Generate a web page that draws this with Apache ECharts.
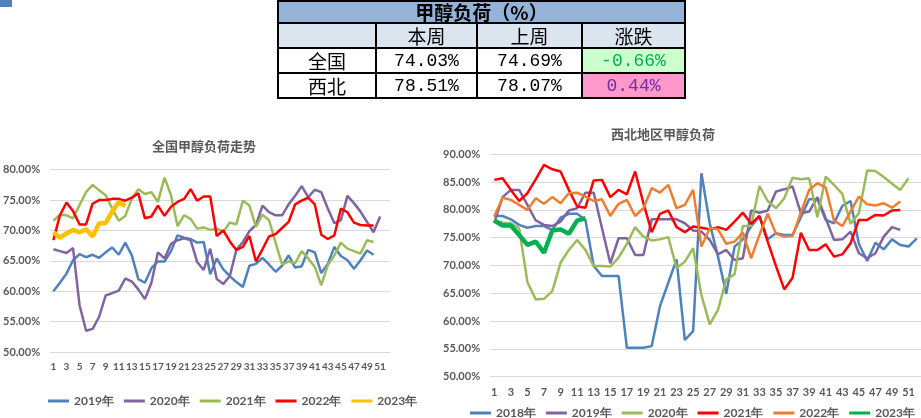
<!DOCTYPE html>
<html><head><meta charset="utf-8">
<script src="https://cdn.jsdelivr.net/npm/echarts@6/dist/echarts.min.js"></script>
<style>
html,body{margin:0;padding:0;background:#fff;}
#c1{position:absolute;left:0;top:0;width:440px;height:418px;}
#c2{position:absolute;left:440px;top:0;width:481px;height:418px;}
#t{position:absolute;left:277px;top:0px;border-collapse:collapse;z-index:5;}
#t td{border:2px solid #000;padding:0;text-align:center;color:#000;font-family:"Noto Sans CJK SC";font-size:19px;line-height:20px;}
#t td.n{font-family:"Liberation Mono";font-size:18px;}
#mark{position:absolute;left:0;top:0;width:12px;height:7px;background:#4F81BD;}
</style></head>
<body>
<div id="c1"></div>
<div id="c2"></div>
<div id="mark"></div>
<table id="t"></table>
<script>
// ---- data ----
const weeks = Array.from({length:52},(_,i)=>String(i+1));

const tableTitle = '甲醇负荷（%）';
const tableHeader = ['', '本周', '上周', '涨跌'];
const tableRows = [['全国','74.03%','74.69%','-0.66%'],['西北','78.51%','78.07%','0.44%']];

const natNames = ['2019年','2020年','2021年','2022年','2023年'];
const nat2019 = [60.0,61.4,62.9,65.1,66.1,65.6,66.0,65.5,66.4,67.2,66.0,68.0,65.9,62.0,61.4,63.8,64.9,64.9,66.6,69.2,68.8,68.6,68.0,68.1,62.8,65.4,63.6,62.5,61.5,60.7,64.2,64.5,65.5,64.4,63.2,64.2,65.9,63.9,64.1,66.8,66.4,63.0,64.5,67.3,65.8,65.1,63.7,65.1,66.7,66.0];
const nat2020 = [66.9,66.6,66.3,67.1,57.7,53.5,53.8,55.8,59.3,59.7,60.1,62.1,61.6,60.3,58.7,61.4,66.4,65.4,67.8,68.4,68.7,68.4,64.8,63.5,67.0,62.0,61.2,62.5,66.8,68.1,69.9,70.9,74.1,73.0,72.5,72.5,74.3,75.7,77.3,75.5,76.7,76.3,73.6,71.2,71.7,75.7,74.5,73.1,71.4,69.7,72.3];
const nat2021 = [71.6,72.6,72.5,72.0,74.2,76.3,77.5,76.6,75.8,73.6,71.6,72.4,75.2,76.8,76.0,76.3,74.7,78.7,75.8,70.7,72.5,71.9,70.3,70.5,70.1,70.3,69.8,71.3,71.0,74.9,74.1,70.6,72.6,71.7,68.0,64.4,64.9,64.6,66.6,65.4,64.0,61.0,64.3,65.9,68.0,67.0,66.6,66.2,68.4,68.1];
const nat2022 = [68.4,72.5,74.6,73.2,71.0,71.0,74.4,75.0,75.0,75.2,75.2,74.9,75.4,76.1,72.0,72.3,74.1,72.4,73.9,74.7,75.2,76.8,74.9,75.6,75.6,69.1,70.0,68.2,66.8,67.3,69.1,64.9,66.9,69.0,69.4,70.4,71.4,74.3,74.9,75.4,74.3,69.3,68.6,69.2,73.6,73.0,71.3,70.9,70.8,70.8];
const nat2023 = [69.7,68.8,69.5,70.1,69.7,70.2,69.0,71.2,71.2,73.1,74.69,74.03];

const nwNames = ['2018年','2019年','2020年','2021年','2022年','2023年'];
const nw2018 = [78.9,78.9,78.3,77.3,76.8,77.1,77.1,76.4,78.6,79.3,79.3,78.2,69.9,68.1,68.1,68.1,55.2,55.2,55.2,55.5,62.7,66.9,71.1,56.6,58.2,86.6,77.6,71.6,64.9,73.4,74.7,77.0,78.9,74.7,75.8,75.5,75.5,78.7,81.9,81.9,78.2,77.6,80.7,81.6,73.9,70.8,74.1,72.9,74.7,73.7,73.4,74.9];
const nw2019 = [77.7,82.3,83.6,83.6,80.9,78.1,77.3,77.1,77.9,79.9,80.3,83.1,83.1,76.7,70.4,74.9,74.9,71.9,71.9,78.3,78.3,78.3,78.3,77.6,76.3,76.1,74.6,72.0,72.8,71.0,71.3,79.9,79.5,79.9,83.3,83.7,84.2,79.4,79.7,82.3,78.5,74.6,74.7,76.1,72.2,71.3,72.2,75.2,76.9,76.4];
const nw2020 = [78.2,77.7,77.6,76.7,67.0,63.9,64.0,65.4,70.5,72.8,74.6,72.8,69.9,69.9,69.8,71.4,73.9,76.9,75.2,74.5,74.7,75.1,69.5,70.7,73.1,64.7,59.4,62.0,67.5,68.4,77.1,77.1,84.3,81.6,80.3,82.1,85.8,85.5,85.7,78.7,86.0,84.5,82.9,77.5,79.4,87.1,87.0,85.9,84.7,83.6,85.7];
const nw2021 = [85.4,85.7,83.6,81.6,83.0,85.5,88.1,87.3,86.9,83.6,80.6,80.4,85.3,85.4,82.3,83.6,82.8,86.9,81.2,76.0,79.3,79.9,76.9,76.0,77.0,76.8,76.5,76.9,76.4,77.9,79.5,77.5,78.9,74.3,69.9,65.7,67.8,75.9,72.8,72.8,73.8,71.6,72.0,74.0,78.2,78.2,79.1,79.0,79.9,80.0];
const nw2022 = [78.8,82.2,81.8,80.9,80.0,82.1,81.1,82.3,81.2,83.0,83.1,82.4,81.6,81.9,78.9,81.1,81.8,78.9,80.3,83.9,83.1,84.5,80.3,80.9,83.6,73.4,76.7,76.5,73.9,74.3,75.9,71.3,75.5,79.3,75.7,75.2,75.3,79.5,83.6,84.8,84.0,78.1,77.1,79.7,82.4,81.0,80.8,81.2,80.4,81.5];
const nw2023 = [78.1,77.2,77.2,75.5,73.7,74.3,72.3,76.3,76.5,75.7,78.07,78.51];

// ---- table ----
(function(){
  const t = document.getElementById('t');
  const widths = [96,99,103,101];
  let h = '<tr><td colspan="4" style="background:#95B3D7;font-weight:bold;height:20px;">'+tableTitle+'</td></tr>';
  h += '<tr>' + tableHeader.map((s,i)=>'<td style="background:#DCE6F1;width:'+widths[i]+'px;height:23px;">'+s+'</td>').join('') + '</tr>';
  tableRows.forEach((r,ri)=>{
    h += '<tr>' + r.map((s,i)=>{
      let st = 'height:23px;';
      let cls = i>0 ? 'n' : '';
      if(i===3){ st += ri===0 ? 'background:#CCFFCC;color:#00B050;' : 'background:#FF99CC;color:#7030A0;'; }
      return '<td class="'+cls+'" style="'+st+'">'+s+'</td>';
    }).join('') + '</tr>';
  });
  t.innerHTML = h;
})();

// ---- charts ----
const txt = '#595959';
const lab = {color:txt,fontFamily:'Lato',fontWeight:'bold',fontSize:11};
function yAxis(min,max){
  return {type:'value',min:min,max:max,interval:5,
    axisLabel:Object.assign({formatter:v=>v.toFixed(2)+'%',margin:10},lab),
    axisLine:{show:false},axisTick:{show:false},
    splitLine:{lineStyle:{color:'#D9D9D9',width:1}}};
}
function xAxis(fs){
  return {type:'category',data:weeks,boundaryGap:true,
    axisLabel:Object.assign({},lab,{interval:1,margin:10,fontSize:fs}),
    axisLine:{lineStyle:{color:'#D9D9D9'}},axisTick:{show:false}};
}
function line(name,data,color,w){
  return {name:name,type:'line',data:data,symbol:'none',
    lineStyle:{color:color,width:w},itemStyle:{color:color},z:w>3?5:2};
}
const legText = {color:txt,fontFamily:'Lato',fontWeight:'bold',fontSize:12};
const titleStyle = {color:txt,fontSize:13,fontWeight:'bold',fontFamily:'Noto Sans CJK SC'};

const natColors = ['#4F81BD','#8064A2','#9BBB59','#FF0000','#FFC000'];
const natData = [nat2019,nat2020,nat2021,nat2022,nat2023];
const c1 = echarts.init(document.getElementById('c1'));
c1.setOption({
  animation:false,
  title:{text:'全国甲醇负荷走势',left:199,top:135,textAlign:'center',textStyle:titleStyle},
  grid:{left:45.7,top:169.7,width:344.2,height:182.3},
  xAxis:xAxis(10),
  yAxis:yAxis(50,80),
  legend:{data:natNames,left:43,top:390,itemWidth:21,itemHeight:3,icon:'rect',itemGap:10,textStyle:legText},
  series:natData.map((d,i)=>line(natNames[i],d,natColors[i],i===4?4.5:2.5))
});

const nwColors = ['#4F81BD','#8064A2','#9BBB59','#FF0000','#ED7D31','#00B050'];
const nwData = [nw2018,nw2019,nw2020,nw2021,nw2022,nw2023];
const off = 440;
const c2 = echarts.init(document.getElementById('c2'));
c2.setOption({
  animation:false,
  title:{text:'西北地区甲醇负荷',left:658-off,top:123,textAlign:'center',textStyle:titleStyle},
  grid:{left:447.7-off,top:154.3,width:474.2,height:222.4},
  xAxis:xAxis(11),
  yAxis:yAxis(50,90),
  legend:{data:nwNames,left:465-off,top:402,itemWidth:21,itemHeight:3,icon:'rect',itemGap:10,textStyle:legText},
  series:nwData.map((d,i)=>line(nwNames[i],d,nwColors[i],i===5?4.5:2.5))
});
</script>
</body></html>
